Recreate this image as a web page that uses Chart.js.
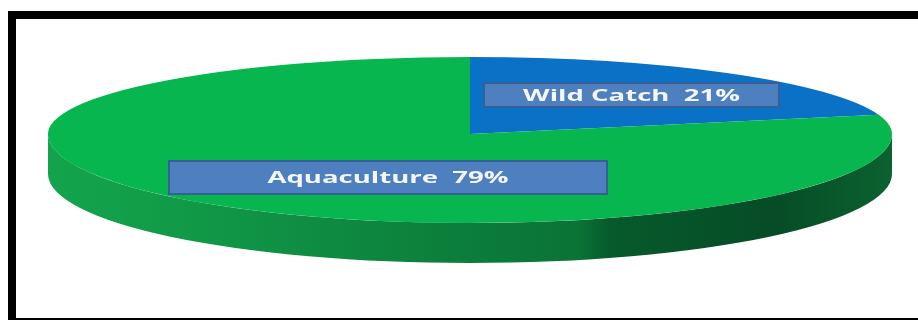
<!DOCTYPE html>
<html>
<head>
<meta charset="utf-8">
<script src="https://cdn.jsdelivr.net/npm/chart.js@4.4.1/dist/chart.umd.min.js"></script>
<style>
  html, body { margin: 0; padding: 0; background: #fff; }
  #frame {
    position: absolute; left: 8px; top: 11px;
    width: 1000px; height: 315px;
    box-sizing: border-box;
    border: 8px solid #000; border-right: none;
  }
  #pie { position: absolute; left: 0; top: 0; }
</style>
</head>
<body>
<div id="frame"></div>
<canvas id="pie" width="918" height="320"></canvas>
<script>
// Share of production by source
const categories = ['Wild Catch', 'Aquaculture'];
const shares = [21, 79];
const sliceColors = ['#0a72c6', '#08b650'];

/**
 * Fake 3D pie: the flat Chart.js pie is squashed vertically (far half flatter
 * than the near half) and an extruded rim is painted under the near half.
 */
const tiltPlugin = {
  id: 'tilt',

  beforeDatasetsDraw(chart, args, opts) {
    const ctx = chart.ctx;
    const arcs = chart.getDatasetMeta(0).data;
    if (!arcs.length) return;
    const { x, y, outerRadius: r } = arcs[0];
    const kBack = opts.backHeight / r;
    const kFront = opts.frontHeight / r;

    // rim (only the front facing part of each slice)
    arcs.forEach((arc, i) => {
      const grad = ctx.createLinearGradient(x - r, 0, x + r, 0);
      opts.rimStops[i].forEach(([p, c]) => grad.addColorStop(p, c));
      ctx.fillStyle = grad;
      for (const base of [-2 * Math.PI, 0, 2 * Math.PI]) {
        const s = Math.max(arc.startAngle, base);
        const e = Math.min(arc.endAngle, base + Math.PI);
        if (e <= s) continue;
        ctx.beginPath();
        ctx.ellipse(x, y, r, r * kFront, 0, s, e);
        ctx.ellipse(x, y + opts.depth, r, r * kFront, 0, e, s, true);
        ctx.closePath();
        ctx.fill();
      }
    });

    // back half of the top face
    ctx.save();
    ctx.beginPath();
    ctx.rect(0, 0, chart.width, y);
    ctx.clip();
    ctx.translate(x, y);
    ctx.scale(1, kBack);
    ctx.translate(-x, -y);
    arcs.forEach(arc => arc.draw(ctx));
    ctx.restore();

    // front half: let chart.js draw it under this transform
    ctx.save();
    ctx.beginPath();
    ctx.rect(0, y, chart.width, chart.height - y);
    ctx.clip();
    ctx.translate(x, y);
    ctx.scale(1, kFront);
    ctx.translate(-x, -y);
  },

  afterDatasetsDraw(chart) {
    chart.ctx.restore();
  }
};

// boxed labels sitting on top of the slices
const boxLabelPlugin = {
  id: 'boxLabels',
  afterDraw(chart, args, opts) {
    const ctx = chart.ctx;
    const arcs = chart.getDatasetMeta(0).data;
    if (!arcs.length) return;
    const { x, y } = arcs[0];
    opts.boxes.forEach((b, i) => {
      const left = x + b.dx, top = y + b.dy;
      ctx.fillStyle = opts.fill;
      ctx.fillRect(left, top, b.w, b.h);
      ctx.strokeStyle = opts.border;
      ctx.lineWidth = 2;
      ctx.strokeRect(left + 1, top + 1, b.w - 2, b.h - 2);

      const text = categories[i] + '  ' + shares[i] + '%';
      ctx.save();
      ctx.translate(left + b.w / 2, top + b.h / 2 + 1);
      ctx.scale(opts.stretch, 1);
      ctx.font = opts.font;
      ctx.fillStyle = '#f4f6fa';
      ctx.textAlign = 'center';
      ctx.textBaseline = 'middle';
      ctx.fillText(text, 0, 0);
      ctx.restore();
    });
  }
};

new Chart(document.getElementById('pie'), {
  type: 'pie',
  data: {
    labels: categories,
    datasets: [{
      data: shares,
      backgroundColor: sliceColors,
      borderWidth: 0,
      radius: 422,
      clip: false
    }]
  },
  options: {
    responsive: false,
    devicePixelRatio: 1,
    animation: false,
    events: [],
    layout: { padding: { left: 22, right: 0, top: 0, bottom: 52 } },
    plugins: {
      legend: { display: false },
      tooltip: { enabled: false },
      tilt: {
        backHeight: 77,
        frontHeight: 89,
        depth: 40,
        rimStops: [
          [[0, '#0b5fa8'], [1, '#073d70']],
          [[0, '#14a34d'], [0.08, '#12a04a'], [0.275, '#0f9044'], [0.47, '#0c7f3b'],
           [0.63, '#0a7336'], [0.665, '#075a2c'], [0.86, '#064c26'], [1, '#0b6230']]
        ]
      },
      boxLabels: {
        fill: '#4e7fbf',
        border: '#365f98',
        font: 'bold 16px "Open Sans"',
        stretch: 1.72,
        boxes: [
          { dx: 13, dy: -52, w: 297, h: 26 },
          { dx: -302, dy: 26, w: 440, h: 35 }
        ]
      }
    }
  },
  plugins: [tiltPlugin, boxLabelPlugin]
});
</script>
</body>
</html>
